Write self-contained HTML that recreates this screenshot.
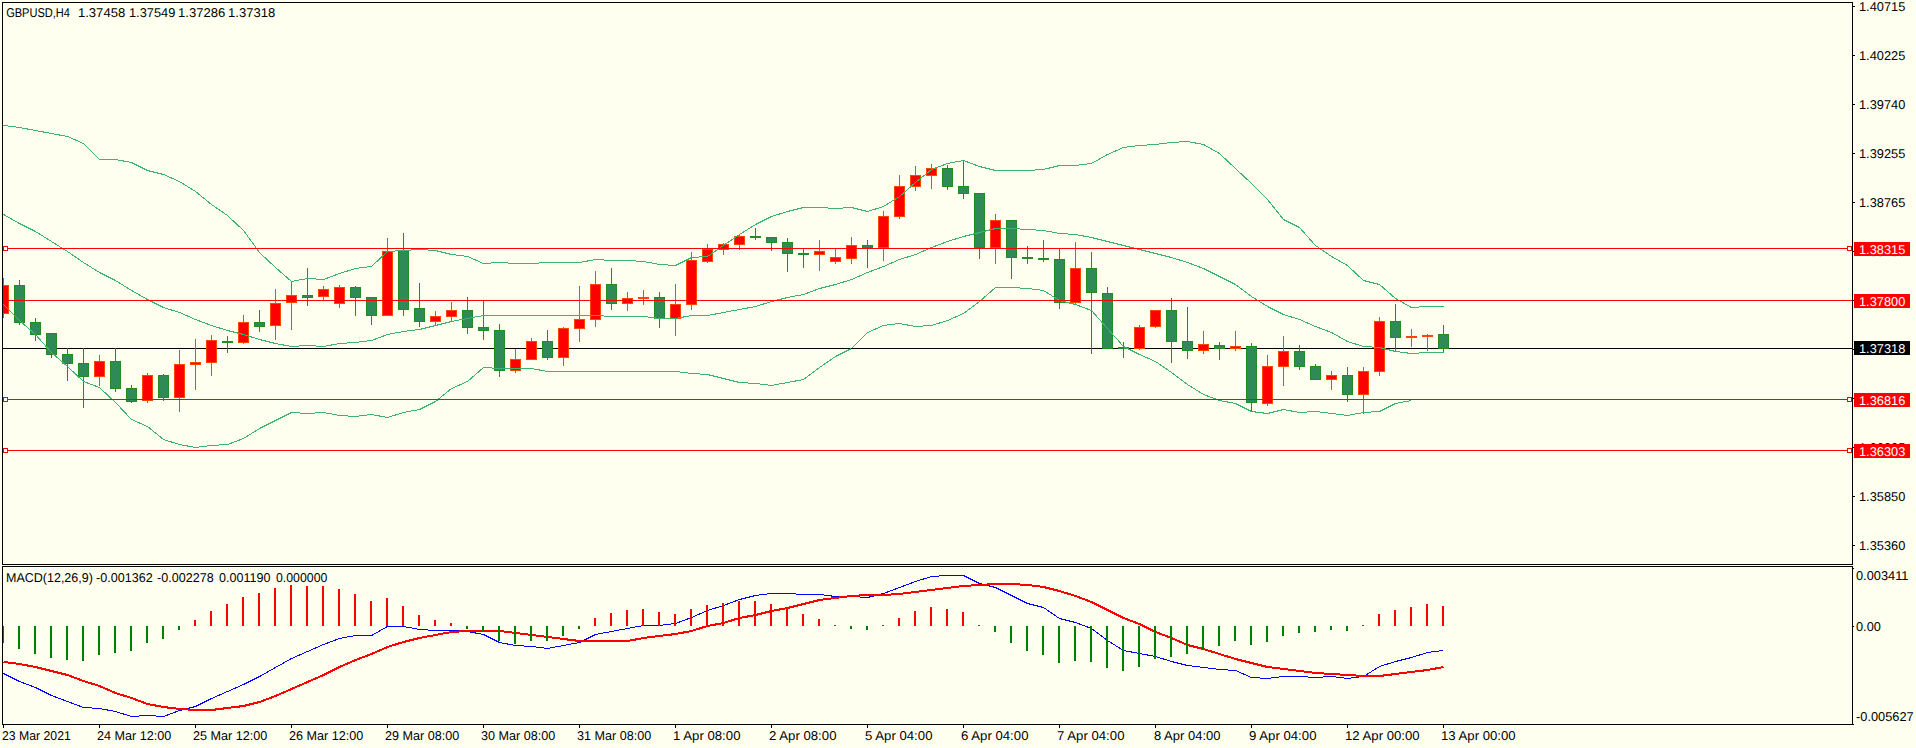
<!DOCTYPE html><html><head><meta charset="utf-8"><title>GBPUSD,H4</title><style>html,body{margin:0;padding:0;background:#FFFFF0;overflow:hidden}svg{display:block}text{text-rendering:geometricPrecision}</style></head><body><svg width="1916" height="748" viewBox="0 0 1916 748" shape-rendering="crispEdges" font-family="'Liberation Sans', sans-serif" font-size="12.8px"><defs><clipPath id="cmain"><rect x="3" y="3" width="1849" height="561"/></clipPath><clipPath id="cmacd"><rect x="3" y="567" width="1849" height="157"/></clipPath></defs><rect x="0" y="0" width="1916" height="748" fill="#FFFFF0"/><g clip-path="url(#cmain)"><rect x="3" y="348" width="1849" height="1" fill="#000000"/><rect x="3" y="278" width="1" height="40" fill="#FF4500"/><rect x="-2" y="285" width="11" height="29" fill="#FF4500"/><rect x="-1" y="286" width="9" height="27" fill="#FF0000"/><rect x="19" y="280" width="1" height="45" fill="#228B22"/><rect x="14" y="285" width="11" height="38" fill="#228B22"/><rect x="15" y="286" width="9" height="36" fill="#2E8B57"/><rect x="35" y="318" width="1" height="23" fill="#228B22"/><rect x="30" y="322" width="11" height="13" fill="#228B22"/><rect x="31" y="323" width="9" height="11" fill="#2E8B57"/><rect x="51" y="333" width="1" height="25" fill="#228B22"/><rect x="46" y="333" width="11" height="22" fill="#228B22"/><rect x="47" y="334" width="9" height="20" fill="#2E8B57"/><rect x="67" y="348" width="1" height="33" fill="#228B22"/><rect x="62" y="354" width="11" height="10" fill="#228B22"/><rect x="63" y="355" width="9" height="8" fill="#2E8B57"/><rect x="83" y="348" width="1" height="60" fill="#228B22"/><rect x="78" y="363" width="11" height="14" fill="#228B22"/><rect x="79" y="364" width="9" height="12" fill="#2E8B57"/><rect x="99" y="355" width="1" height="31" fill="#FF4500"/><rect x="94" y="361" width="11" height="16" fill="#FF4500"/><rect x="95" y="362" width="9" height="14" fill="#FF0000"/><rect x="115" y="348" width="1" height="44" fill="#228B22"/><rect x="110" y="361" width="11" height="28" fill="#228B22"/><rect x="111" y="362" width="9" height="26" fill="#2E8B57"/><rect x="131" y="385" width="1" height="18" fill="#228B22"/><rect x="126" y="388" width="11" height="14" fill="#228B22"/><rect x="127" y="389" width="9" height="12" fill="#2E8B57"/><rect x="147" y="373" width="1" height="30" fill="#FF4500"/><rect x="142" y="375" width="11" height="26" fill="#FF4500"/><rect x="143" y="376" width="9" height="24" fill="#FF0000"/><rect x="163" y="374" width="1" height="27" fill="#228B22"/><rect x="158" y="375" width="11" height="23" fill="#228B22"/><rect x="159" y="376" width="9" height="21" fill="#2E8B57"/><rect x="179" y="350" width="1" height="62" fill="#FF4500"/><rect x="174" y="364" width="11" height="34" fill="#FF4500"/><rect x="175" y="365" width="9" height="32" fill="#FF0000"/><rect x="195" y="339" width="1" height="51" fill="#FF4500"/><rect x="190" y="362" width="11" height="3" fill="#FF4500"/><rect x="191" y="363" width="9" height="1" fill="#FF0000"/><rect x="211" y="335" width="1" height="41" fill="#FF4500"/><rect x="206" y="340" width="11" height="23" fill="#FF4500"/><rect x="207" y="341" width="9" height="21" fill="#FF0000"/><rect x="227" y="336" width="1" height="17" fill="#228B22"/><rect x="222" y="341" width="11" height="2" fill="#228B22"/><rect x="243" y="315" width="1" height="29" fill="#FF4500"/><rect x="238" y="322" width="11" height="21" fill="#FF4500"/><rect x="239" y="323" width="9" height="19" fill="#FF0000"/><rect x="259" y="310" width="1" height="22" fill="#228B22"/><rect x="254" y="322" width="11" height="5" fill="#228B22"/><rect x="255" y="323" width="9" height="3" fill="#2E8B57"/><rect x="275" y="289" width="1" height="51" fill="#FF4500"/><rect x="270" y="303" width="11" height="23" fill="#FF4500"/><rect x="271" y="304" width="9" height="21" fill="#FF0000"/><rect x="291" y="282" width="1" height="48" fill="#FF4500"/><rect x="286" y="295" width="11" height="8" fill="#FF4500"/><rect x="287" y="296" width="9" height="6" fill="#FF0000"/><rect x="307" y="268" width="1" height="38" fill="#228B22"/><rect x="302" y="295" width="11" height="3" fill="#228B22"/><rect x="303" y="296" width="9" height="1" fill="#2E8B57"/><rect x="323" y="286" width="1" height="15" fill="#FF4500"/><rect x="318" y="289" width="11" height="8" fill="#FF4500"/><rect x="319" y="290" width="9" height="6" fill="#FF0000"/><rect x="339" y="285" width="1" height="23" fill="#FF4500"/><rect x="334" y="287" width="11" height="17" fill="#FF4500"/><rect x="335" y="288" width="9" height="15" fill="#FF0000"/><rect x="355" y="286" width="1" height="30" fill="#228B22"/><rect x="350" y="287" width="11" height="11" fill="#228B22"/><rect x="351" y="288" width="9" height="9" fill="#2E8B57"/><rect x="371" y="297" width="1" height="28" fill="#228B22"/><rect x="366" y="297" width="11" height="19" fill="#228B22"/><rect x="367" y="298" width="9" height="17" fill="#2E8B57"/><rect x="387" y="238" width="1" height="78" fill="#FF4500"/><rect x="382" y="251" width="11" height="65" fill="#FF4500"/><rect x="383" y="252" width="9" height="63" fill="#FF0000"/><rect x="403" y="233" width="1" height="83" fill="#228B22"/><rect x="398" y="250" width="11" height="60" fill="#228B22"/><rect x="399" y="251" width="9" height="58" fill="#2E8B57"/><rect x="419" y="283" width="1" height="44" fill="#228B22"/><rect x="414" y="308" width="11" height="14" fill="#228B22"/><rect x="415" y="309" width="9" height="12" fill="#2E8B57"/><rect x="435" y="311" width="1" height="14" fill="#FF4500"/><rect x="430" y="316" width="11" height="6" fill="#FF4500"/><rect x="431" y="317" width="9" height="4" fill="#FF0000"/><rect x="451" y="302" width="1" height="19" fill="#FF4500"/><rect x="446" y="310" width="11" height="7" fill="#FF4500"/><rect x="447" y="311" width="9" height="5" fill="#FF0000"/><rect x="467" y="297" width="1" height="37" fill="#228B22"/><rect x="462" y="310" width="11" height="18" fill="#228B22"/><rect x="463" y="311" width="9" height="16" fill="#2E8B57"/><rect x="483" y="301" width="1" height="39" fill="#228B22"/><rect x="478" y="327" width="11" height="4" fill="#228B22"/><rect x="479" y="328" width="9" height="2" fill="#2E8B57"/><rect x="499" y="324" width="1" height="53" fill="#228B22"/><rect x="494" y="330" width="11" height="41" fill="#228B22"/><rect x="495" y="331" width="9" height="39" fill="#2E8B57"/><rect x="515" y="349" width="1" height="24" fill="#FF4500"/><rect x="510" y="359" width="11" height="12" fill="#FF4500"/><rect x="511" y="360" width="9" height="10" fill="#FF0000"/><rect x="531" y="338" width="1" height="22" fill="#FF4500"/><rect x="526" y="341" width="11" height="19" fill="#FF4500"/><rect x="527" y="342" width="9" height="17" fill="#FF0000"/><rect x="547" y="330" width="1" height="30" fill="#228B22"/><rect x="542" y="341" width="11" height="17" fill="#228B22"/><rect x="543" y="342" width="9" height="15" fill="#2E8B57"/><rect x="563" y="327" width="1" height="39" fill="#FF4500"/><rect x="558" y="328" width="11" height="30" fill="#FF4500"/><rect x="559" y="329" width="9" height="28" fill="#FF0000"/><rect x="579" y="286" width="1" height="56" fill="#FF4500"/><rect x="574" y="319" width="11" height="10" fill="#FF4500"/><rect x="575" y="320" width="9" height="8" fill="#FF0000"/><rect x="595" y="271" width="1" height="56" fill="#FF4500"/><rect x="590" y="284" width="11" height="36" fill="#FF4500"/><rect x="591" y="285" width="9" height="34" fill="#FF0000"/><rect x="611" y="268" width="1" height="42" fill="#228B22"/><rect x="606" y="284" width="11" height="20" fill="#228B22"/><rect x="607" y="285" width="9" height="18" fill="#2E8B57"/><rect x="627" y="292" width="1" height="19" fill="#FF4500"/><rect x="622" y="298" width="11" height="6" fill="#FF4500"/><rect x="623" y="299" width="9" height="4" fill="#FF0000"/><rect x="643" y="290" width="1" height="15" fill="#FF4500"/><rect x="638" y="297" width="11" height="2" fill="#FF4500"/><rect x="659" y="292" width="1" height="36" fill="#228B22"/><rect x="654" y="297" width="11" height="22" fill="#228B22"/><rect x="655" y="298" width="9" height="20" fill="#2E8B57"/><rect x="675" y="284" width="1" height="52" fill="#FF4500"/><rect x="670" y="304" width="11" height="15" fill="#FF4500"/><rect x="671" y="305" width="9" height="13" fill="#FF0000"/><rect x="691" y="252" width="1" height="58" fill="#FF4500"/><rect x="686" y="260" width="11" height="45" fill="#FF4500"/><rect x="687" y="261" width="9" height="43" fill="#FF0000"/><rect x="707" y="244" width="1" height="19" fill="#FF4500"/><rect x="702" y="249" width="11" height="13" fill="#FF4500"/><rect x="703" y="250" width="9" height="11" fill="#FF0000"/><rect x="723" y="243" width="1" height="12" fill="#FF4500"/><rect x="718" y="244" width="11" height="6" fill="#FF4500"/><rect x="719" y="245" width="9" height="4" fill="#FF0000"/><rect x="739" y="235" width="1" height="15" fill="#FF4500"/><rect x="734" y="236" width="11" height="9" fill="#FF4500"/><rect x="735" y="237" width="9" height="7" fill="#FF0000"/><rect x="755" y="228" width="1" height="12" fill="#228B22"/><rect x="750" y="236" width="11" height="2" fill="#228B22"/><rect x="771" y="237" width="1" height="14" fill="#228B22"/><rect x="766" y="237" width="11" height="6" fill="#228B22"/><rect x="767" y="238" width="9" height="4" fill="#2E8B57"/><rect x="787" y="238" width="1" height="34" fill="#228B22"/><rect x="782" y="242" width="11" height="12" fill="#228B22"/><rect x="783" y="243" width="9" height="10" fill="#2E8B57"/><rect x="803" y="249" width="1" height="19" fill="#228B22"/><rect x="798" y="253" width="11" height="2" fill="#228B22"/><rect x="819" y="240" width="1" height="31" fill="#FF4500"/><rect x="814" y="251" width="11" height="4" fill="#FF4500"/><rect x="815" y="252" width="9" height="2" fill="#FF0000"/><rect x="835" y="248" width="1" height="16" fill="#FF4500"/><rect x="830" y="257" width="11" height="5" fill="#FF4500"/><rect x="831" y="258" width="9" height="3" fill="#FF0000"/><rect x="851" y="237" width="1" height="27" fill="#FF4500"/><rect x="846" y="245" width="11" height="14" fill="#FF4500"/><rect x="847" y="246" width="9" height="12" fill="#FF0000"/><rect x="867" y="240" width="1" height="28" fill="#228B22"/><rect x="862" y="245" width="11" height="3" fill="#228B22"/><rect x="863" y="246" width="9" height="1" fill="#2E8B57"/><rect x="883" y="211" width="1" height="50" fill="#FF4500"/><rect x="878" y="216" width="11" height="32" fill="#FF4500"/><rect x="879" y="217" width="9" height="30" fill="#FF0000"/><rect x="899" y="175" width="1" height="44" fill="#FF4500"/><rect x="894" y="186" width="11" height="31" fill="#FF4500"/><rect x="895" y="187" width="9" height="29" fill="#FF0000"/><rect x="915" y="166" width="1" height="25" fill="#FF4500"/><rect x="910" y="175" width="11" height="12" fill="#FF4500"/><rect x="911" y="176" width="9" height="10" fill="#FF0000"/><rect x="931" y="164" width="1" height="25" fill="#FF4500"/><rect x="926" y="168" width="11" height="8" fill="#FF4500"/><rect x="927" y="169" width="9" height="6" fill="#FF0000"/><rect x="947" y="165" width="1" height="25" fill="#228B22"/><rect x="942" y="168" width="11" height="19" fill="#228B22"/><rect x="943" y="169" width="9" height="17" fill="#2E8B57"/><rect x="963" y="160" width="1" height="39" fill="#228B22"/><rect x="958" y="186" width="11" height="8" fill="#228B22"/><rect x="959" y="187" width="9" height="6" fill="#2E8B57"/><rect x="979" y="193" width="1" height="66" fill="#228B22"/><rect x="974" y="193" width="11" height="55" fill="#228B22"/><rect x="975" y="194" width="9" height="53" fill="#2E8B57"/><rect x="995" y="214" width="1" height="50" fill="#FF4500"/><rect x="990" y="220" width="11" height="28" fill="#FF4500"/><rect x="991" y="221" width="9" height="26" fill="#FF0000"/><rect x="1011" y="220" width="1" height="59" fill="#228B22"/><rect x="1006" y="220" width="11" height="38" fill="#228B22"/><rect x="1007" y="221" width="9" height="36" fill="#2E8B57"/><rect x="1027" y="246" width="1" height="18" fill="#228B22"/><rect x="1022" y="257" width="11" height="2" fill="#228B22"/><rect x="1043" y="240" width="1" height="22" fill="#228B22"/><rect x="1038" y="258" width="11" height="2" fill="#228B22"/><rect x="1059" y="249" width="1" height="60" fill="#228B22"/><rect x="1054" y="259" width="11" height="44" fill="#228B22"/><rect x="1055" y="260" width="9" height="42" fill="#2E8B57"/><rect x="1075" y="242" width="1" height="62" fill="#FF4500"/><rect x="1070" y="268" width="11" height="35" fill="#FF4500"/><rect x="1071" y="269" width="9" height="33" fill="#FF0000"/><rect x="1091" y="252" width="1" height="102" fill="#228B22"/><rect x="1086" y="268" width="11" height="25" fill="#228B22"/><rect x="1087" y="269" width="9" height="23" fill="#2E8B57"/><rect x="1107" y="287" width="1" height="62" fill="#228B22"/><rect x="1102" y="293" width="11" height="56" fill="#228B22"/><rect x="1103" y="294" width="9" height="54" fill="#2E8B57"/><rect x="1123" y="342" width="1" height="16" fill="#228B22"/><rect x="1118" y="347" width="11" height="2" fill="#228B22"/><rect x="1139" y="325" width="1" height="25" fill="#FF4500"/><rect x="1134" y="327" width="11" height="22" fill="#FF4500"/><rect x="1135" y="328" width="9" height="20" fill="#FF0000"/><rect x="1155" y="310" width="1" height="18" fill="#FF4500"/><rect x="1150" y="310" width="11" height="17" fill="#FF4500"/><rect x="1151" y="311" width="9" height="15" fill="#FF0000"/><rect x="1171" y="298" width="1" height="65" fill="#228B22"/><rect x="1166" y="310" width="11" height="32" fill="#228B22"/><rect x="1167" y="311" width="9" height="30" fill="#2E8B57"/><rect x="1187" y="307" width="1" height="52" fill="#228B22"/><rect x="1182" y="341" width="11" height="10" fill="#228B22"/><rect x="1183" y="342" width="9" height="8" fill="#2E8B57"/><rect x="1203" y="331" width="1" height="23" fill="#FF4500"/><rect x="1198" y="344" width="11" height="7" fill="#FF4500"/><rect x="1199" y="345" width="9" height="5" fill="#FF0000"/><rect x="1219" y="342" width="1" height="18" fill="#228B22"/><rect x="1214" y="345" width="11" height="4" fill="#228B22"/><rect x="1215" y="346" width="9" height="2" fill="#2E8B57"/><rect x="1235" y="331" width="1" height="20" fill="#FF4500"/><rect x="1230" y="346" width="11" height="3" fill="#FF4500"/><rect x="1231" y="347" width="9" height="1" fill="#FF0000"/><rect x="1251" y="343" width="1" height="69" fill="#228B22"/><rect x="1246" y="346" width="11" height="57" fill="#228B22"/><rect x="1247" y="347" width="9" height="55" fill="#2E8B57"/><rect x="1267" y="355" width="1" height="51" fill="#FF4500"/><rect x="1262" y="366" width="11" height="38" fill="#FF4500"/><rect x="1263" y="367" width="9" height="36" fill="#FF0000"/><rect x="1283" y="336" width="1" height="50" fill="#FF4500"/><rect x="1278" y="351" width="11" height="16" fill="#FF4500"/><rect x="1279" y="352" width="9" height="14" fill="#FF0000"/><rect x="1299" y="345" width="1" height="25" fill="#228B22"/><rect x="1294" y="351" width="11" height="16" fill="#228B22"/><rect x="1295" y="352" width="9" height="14" fill="#2E8B57"/><rect x="1315" y="364" width="1" height="16" fill="#228B22"/><rect x="1310" y="366" width="11" height="14" fill="#228B22"/><rect x="1311" y="367" width="9" height="12" fill="#2E8B57"/><rect x="1331" y="371" width="1" height="19" fill="#FF4500"/><rect x="1326" y="375" width="11" height="5" fill="#FF4500"/><rect x="1327" y="376" width="9" height="3" fill="#FF0000"/><rect x="1347" y="367" width="1" height="35" fill="#228B22"/><rect x="1342" y="375" width="11" height="20" fill="#228B22"/><rect x="1343" y="376" width="9" height="18" fill="#2E8B57"/><rect x="1363" y="367" width="1" height="47" fill="#FF4500"/><rect x="1358" y="371" width="11" height="24" fill="#FF4500"/><rect x="1359" y="372" width="9" height="22" fill="#FF0000"/><rect x="1379" y="317" width="1" height="59" fill="#FF4500"/><rect x="1374" y="321" width="11" height="51" fill="#FF4500"/><rect x="1375" y="322" width="9" height="49" fill="#FF0000"/><rect x="1395" y="304" width="1" height="47" fill="#228B22"/><rect x="1390" y="321" width="11" height="17" fill="#228B22"/><rect x="1391" y="322" width="9" height="15" fill="#2E8B57"/><rect x="1411" y="329" width="1" height="18" fill="#FF4500"/><rect x="1406" y="336" width="11" height="2" fill="#FF4500"/><rect x="1427" y="334" width="1" height="17" fill="#FF4500"/><rect x="1422" y="335" width="11" height="2" fill="#FF4500"/><rect x="1443" y="325" width="1" height="27" fill="#228B22"/><rect x="1438" y="334" width="11" height="15" fill="#228B22"/><rect x="1439" y="335" width="9" height="13" fill="#2E8B57"/><polyline points="3.5,125.5 19.5,127.5 35.5,130.5 51.5,133.5 67.5,136.5 83.5,143.5 99.5,159.5 115.5,159.5 131.5,162.5 147.5,170.5 163.5,174.5 179.5,181.5 195.5,191.5 211.5,204.5 227.5,215.5 243.5,230.5 259.5,252.5 275.5,267.5 291.5,281.5 307.5,278.5 323.5,279.5 339.5,273.5 355.5,268.5 371.5,266.5 387.5,251.5 403.5,250.5 419.5,249.5 435.5,250.5 451.5,254.5 467.5,256.5 483.5,263.5 499.5,262.5 515.5,263.5 531.5,263.5 547.5,262.5 563.5,262.5 579.5,262.5 595.5,259.5 611.5,260.5 627.5,260.5 643.5,261.5 659.5,264.5 675.5,265.5 691.5,257.5 707.5,256.5 723.5,245.5 739.5,234.5 755.5,224.5 771.5,216.5 787.5,211.5 803.5,207.5 819.5,207.5 835.5,208.5 851.5,207.5 867.5,211.5 883.5,206.5 899.5,196.5 915.5,182.5 931.5,169.5 947.5,163.5 963.5,160.5 979.5,166.5 995.5,170.5 1011.5,170.5 1027.5,170.5 1043.5,169.5 1059.5,165.5 1075.5,165.5 1091.5,163.5 1107.5,154.5 1123.5,147.5 1139.5,145.5 1155.5,144.5 1171.5,142.5 1187.5,141.5 1203.5,144.5 1219.5,153.5 1235.5,168.5 1251.5,183.5 1267.5,199.5 1283.5,219.5 1299.5,227.5 1315.5,245.5 1331.5,256.5 1347.5,265.5 1363.5,280.5 1379.5,284.5 1395.5,298.5 1411.5,307.5 1427.5,306.5 1443.5,306.5" fill="none" stroke="#3CB371" stroke-width="1"/><polyline points="3.5,214.5 19.5,223.5 35.5,231.5 51.5,241.5 67.5,251.5 83.5,262.5 99.5,272.5 115.5,280.5 131.5,290.5 147.5,299.5 163.5,307.5 179.5,312.5 195.5,319.5 211.5,325.5 227.5,330.5 243.5,334.5 259.5,339.5 275.5,343.5 291.5,346.5 307.5,345.5 323.5,346.5 339.5,343.5 355.5,342.5 371.5,340.5 387.5,334.5 403.5,331.5 419.5,329.5 435.5,325.5 451.5,321.5 467.5,318.5 483.5,315.5 499.5,315.5 515.5,315.5 531.5,315.5 547.5,315.5 563.5,315.5 579.5,315.5 595.5,315.5 611.5,316.5 627.5,316.5 643.5,316.5 659.5,318.5 675.5,318.5 691.5,315.5 707.5,315.5 723.5,312.5 739.5,309.5 755.5,306.5 771.5,301.5 787.5,297.5 803.5,294.5 819.5,288.5 835.5,284.5 851.5,279.5 867.5,272.5 883.5,266.5 899.5,259.5 915.5,254.5 931.5,247.5 947.5,241.5 963.5,236.5 979.5,232.5 995.5,228.5 1011.5,228.5 1027.5,229.5 1043.5,230.5 1059.5,233.5 1075.5,234.5 1091.5,237.5 1107.5,241.5 1123.5,245.5 1139.5,249.5 1155.5,253.5 1171.5,257.5 1187.5,262.5 1203.5,268.5 1219.5,276.5 1235.5,284.5 1251.5,296.5 1267.5,306.5 1283.5,314.5 1299.5,319.5 1315.5,326.5 1331.5,332.5 1347.5,341.5 1363.5,346.5 1379.5,347.5 1395.5,351.5 1411.5,353.5 1427.5,352.5 1443.5,352.5" fill="none" stroke="#3CB371" stroke-width="1"/><polyline points="3.5,304.5 19.5,320.5 35.5,334.5 51.5,352.5 67.5,366.5 83.5,381.5 99.5,387.5 115.5,402.5 131.5,419.5 147.5,426.5 163.5,439.5 179.5,444.5 195.5,447.5 211.5,445.5 227.5,444.5 243.5,438.5 259.5,428.5 275.5,420.5 291.5,412.5 307.5,413.5 323.5,412.5 339.5,415.5 355.5,416.5 371.5,414.5 387.5,417.5 403.5,412.5 419.5,409.5 435.5,401.5 451.5,388.5 467.5,381.5 483.5,367.5 499.5,368.5 515.5,368.5 531.5,368.5 547.5,371.5 563.5,371.5 579.5,371.5 595.5,371.5 611.5,371.5 627.5,371.5 643.5,371.5 659.5,371.5 675.5,371.5 691.5,373.5 707.5,374.5 723.5,378.5 739.5,382.5 755.5,383.5 771.5,385.5 787.5,382.5 803.5,379.5 819.5,367.5 835.5,356.5 851.5,348.5 867.5,332.5 883.5,325.5 899.5,323.5 915.5,326.5 931.5,325.5 947.5,320.5 963.5,313.5 979.5,301.5 995.5,287.5 1011.5,287.5 1027.5,288.5 1043.5,290.5 1059.5,300.5 1075.5,304.5 1091.5,310.5 1107.5,328.5 1123.5,346.5 1139.5,354.5 1155.5,361.5 1171.5,372.5 1187.5,384.5 1203.5,394.5 1219.5,400.5 1235.5,403.5 1251.5,411.5 1267.5,413.5 1283.5,409.5 1299.5,412.5 1315.5,411.5 1331.5,413.5 1347.5,415.5 1363.5,412.5 1379.5,411.5 1395.5,403.5 1411.5,400.5" fill="none" stroke="#3CB371" stroke-width="1"/><rect x="3" y="248" width="1849" height="1" fill="#FF0000"/><rect x="3" y="300" width="1849" height="1" fill="#FF0000"/><rect x="3" y="399" width="1849" height="1" fill="#FF0000"/><rect x="3" y="450" width="1849" height="1" fill="#FF0000"/><rect x="3" y="246" width="5" height="5" fill="#FF0000"/><rect x="4" y="247" width="3" height="3" fill="#FFFFFF"/><rect x="1847" y="246" width="5" height="5" fill="#FF0000"/><rect x="1848" y="247" width="3" height="3" fill="#FFFFFF"/><rect x="3" y="397" width="5" height="5" fill="#FF0000"/><rect x="4" y="398" width="3" height="3" fill="#FFFFFF"/><rect x="1847" y="397" width="5" height="5" fill="#FF0000"/><rect x="1848" y="398" width="3" height="3" fill="#FFFFFF"/><rect x="3" y="448" width="5" height="5" fill="#FF0000"/><rect x="4" y="449" width="3" height="3" fill="#FFFFFF"/><rect x="1847" y="448" width="5" height="5" fill="#FF0000"/><rect x="1848" y="449" width="3" height="3" fill="#FFFFFF"/></g><g clip-path="url(#cmacd)"><polyline points="3.5,673.5 19.5,681.5 35.5,687.5 51.5,695.5 67.5,701.5 83.5,707.5 99.5,708.5 115.5,711.5 131.5,716.5 147.5,715.5 163.5,716.5 179.5,710.5 195.5,706.5 211.5,698.5 227.5,691.5 243.5,684.5 259.5,676.5 275.5,667.5 291.5,658.5 307.5,651.5 323.5,644.5 339.5,638.5 355.5,635.5 371.5,635.5 387.5,626.5 403.5,626.5 419.5,629.5 435.5,630.5 451.5,630.5 467.5,631.5 483.5,634.5 499.5,642.5 515.5,645.5 531.5,646.5 547.5,648.5 563.5,645.5 579.5,642.5 595.5,634.5 611.5,631.5 627.5,628.5 643.5,625.5 659.5,625.5 675.5,623.5 691.5,617.5 707.5,610.5 723.5,605.5 739.5,599.5 755.5,595.5 771.5,593.5 787.5,593.5 803.5,594.5 819.5,594.5 835.5,596.5 851.5,596.5 867.5,597.5 883.5,593.5 899.5,587.5 915.5,581.5 931.5,576.5 947.5,575.5 963.5,575.5 979.5,583.5 995.5,587.5 1011.5,595.5 1027.5,603.5 1043.5,607.5 1059.5,618.5 1075.5,622.5 1091.5,628.5 1107.5,640.5 1123.5,650.5 1139.5,653.5 1155.5,656.5 1171.5,661.5 1187.5,665.5 1203.5,667.5 1219.5,669.5 1235.5,670.5 1251.5,677.5 1267.5,678.5 1283.5,676.5 1299.5,676.5 1315.5,677.5 1331.5,676.5 1347.5,678.5 1363.5,676.5 1379.5,666.5 1395.5,661.5 1411.5,657.5 1427.5,652.5 1443.5,650.5" fill="none" stroke="#0000FF" stroke-width="1"/><polyline points="3.5,662 19.5,664 35.5,667 51.5,671 67.5,675 83.5,681 99.5,686 115.5,693 131.5,698 147.5,704 163.5,707 179.5,709 195.5,710 211.5,710 227.5,708 243.5,706 259.5,702 275.5,696 291.5,689 307.5,682 323.5,675 339.5,667 355.5,660 371.5,654 387.5,647 403.5,642 419.5,638 435.5,635 451.5,632 467.5,631 483.5,631 499.5,631 515.5,633 531.5,635 547.5,637 563.5,639 579.5,641 595.5,641 611.5,641 627.5,641 643.5,638 659.5,636 675.5,634 691.5,631 707.5,626 723.5,623 739.5,618 755.5,615 771.5,611 787.5,608 803.5,604 819.5,600 835.5,598 851.5,596 867.5,595 883.5,595 899.5,594 915.5,592 931.5,590 947.5,588 963.5,586 979.5,585 995.5,584 1011.5,584 1027.5,585 1043.5,587 1059.5,591 1075.5,596 1091.5,602 1107.5,610 1123.5,618 1139.5,624 1155.5,632 1171.5,638 1187.5,645 1203.5,649 1219.5,654 1235.5,659 1251.5,663 1267.5,667 1283.5,669 1299.5,671 1315.5,673 1331.5,674 1347.5,675 1363.5,676 1379.5,676 1395.5,674 1411.5,672 1427.5,670 1443.5,667" fill="none" stroke="#FF0000" stroke-width="2"/><rect x="2" y="626" width="2" height="17" fill="#008000"/><rect x="18" y="626" width="2" height="23" fill="#008000"/><rect x="34" y="626" width="2" height="28" fill="#008000"/><rect x="50" y="626" width="2" height="32" fill="#008000"/><rect x="66" y="626" width="2" height="34" fill="#008000"/><rect x="82" y="626" width="2" height="35" fill="#008000"/><rect x="98" y="626" width="2" height="29" fill="#008000"/><rect x="114" y="626" width="2" height="27" fill="#008000"/><rect x="130" y="626" width="2" height="25" fill="#008000"/><rect x="146" y="626" width="2" height="17" fill="#008000"/><rect x="162" y="626" width="2" height="13" fill="#008000"/><rect x="178" y="626" width="2" height="4" fill="#008000"/><rect x="194" y="620" width="2" height="6" fill="#FF0000"/><rect x="210" y="611" width="2" height="15" fill="#FF0000"/><rect x="226" y="604" width="2" height="22" fill="#FF0000"/><rect x="242" y="597" width="2" height="29" fill="#FF0000"/><rect x="258" y="593" width="2" height="33" fill="#FF0000"/><rect x="274" y="588" width="2" height="38" fill="#FF0000"/><rect x="290" y="585" width="2" height="41" fill="#FF0000"/><rect x="306" y="586" width="2" height="40" fill="#FF0000"/><rect x="322" y="586" width="2" height="40" fill="#FF0000"/><rect x="338" y="589" width="2" height="37" fill="#FF0000"/><rect x="354" y="594" width="2" height="32" fill="#FF0000"/><rect x="370" y="601" width="2" height="25" fill="#FF0000"/><rect x="386" y="598" width="2" height="28" fill="#FF0000"/><rect x="402" y="606" width="2" height="20" fill="#FF0000"/><rect x="418" y="615" width="2" height="11" fill="#FF0000"/><rect x="434" y="620" width="2" height="6" fill="#FF0000"/><rect x="450" y="623" width="2" height="3" fill="#FF0000"/><rect x="466" y="626" width="2" height="3" fill="#008000"/><rect x="482" y="626" width="2" height="6" fill="#008000"/><rect x="498" y="626" width="2" height="15" fill="#008000"/><rect x="514" y="626" width="2" height="18" fill="#008000"/><rect x="530" y="626" width="2" height="15" fill="#008000"/><rect x="546" y="626" width="2" height="15" fill="#008000"/><rect x="562" y="626" width="2" height="10" fill="#008000"/><rect x="578" y="626" width="2" height="3" fill="#008000"/><rect x="594" y="618" width="2" height="8" fill="#FF0000"/><rect x="610" y="613" width="2" height="13" fill="#FF0000"/><rect x="626" y="610" width="2" height="16" fill="#FF0000"/><rect x="642" y="609" width="2" height="17" fill="#FF0000"/><rect x="658" y="612" width="2" height="14" fill="#FF0000"/><rect x="674" y="614" width="2" height="12" fill="#FF0000"/><rect x="690" y="609" width="2" height="17" fill="#FF0000"/><rect x="706" y="605" width="2" height="21" fill="#FF0000"/><rect x="722" y="603" width="2" height="23" fill="#FF0000"/><rect x="738" y="601" width="2" height="25" fill="#FF0000"/><rect x="754" y="601" width="2" height="25" fill="#FF0000"/><rect x="770" y="604" width="2" height="22" fill="#FF0000"/><rect x="786" y="607" width="2" height="19" fill="#FF0000"/><rect x="802" y="614" width="2" height="12" fill="#FF0000"/><rect x="818" y="619" width="2" height="7" fill="#FF0000"/><rect x="834" y="625" width="2" height="1" fill="#FF0000"/><rect x="850" y="626" width="2" height="3" fill="#008000"/><rect x="866" y="626" width="2" height="4" fill="#008000"/><rect x="882" y="625" width="2" height="1" fill="#FF0000"/><rect x="898" y="618" width="2" height="8" fill="#FF0000"/><rect x="914" y="611" width="2" height="15" fill="#FF0000"/><rect x="930" y="607" width="2" height="19" fill="#FF0000"/><rect x="946" y="609" width="2" height="17" fill="#FF0000"/><rect x="962" y="612" width="2" height="14" fill="#FF0000"/><rect x="978" y="625" width="2" height="1" fill="#FF0000"/><rect x="994" y="626" width="2" height="6" fill="#008000"/><rect x="1010" y="626" width="2" height="17" fill="#008000"/><rect x="1026" y="626" width="2" height="25" fill="#008000"/><rect x="1042" y="626" width="2" height="29" fill="#008000"/><rect x="1058" y="626" width="2" height="37" fill="#008000"/><rect x="1074" y="626" width="2" height="35" fill="#008000"/><rect x="1090" y="626" width="2" height="36" fill="#008000"/><rect x="1106" y="626" width="2" height="42" fill="#008000"/><rect x="1122" y="626" width="2" height="45" fill="#008000"/><rect x="1138" y="626" width="2" height="41" fill="#008000"/><rect x="1154" y="626" width="2" height="33" fill="#008000"/><rect x="1170" y="626" width="2" height="31" fill="#008000"/><rect x="1186" y="626" width="2" height="28" fill="#008000"/><rect x="1202" y="626" width="2" height="24" fill="#008000"/><rect x="1218" y="626" width="2" height="20" fill="#008000"/><rect x="1234" y="626" width="2" height="15" fill="#008000"/><rect x="1250" y="626" width="2" height="19" fill="#008000"/><rect x="1266" y="626" width="2" height="16" fill="#008000"/><rect x="1282" y="626" width="2" height="10" fill="#008000"/><rect x="1298" y="626" width="2" height="7" fill="#008000"/><rect x="1314" y="626" width="2" height="6" fill="#008000"/><rect x="1330" y="626" width="2" height="4" fill="#008000"/><rect x="1346" y="626" width="2" height="5" fill="#008000"/><rect x="1362" y="625" width="2" height="1" fill="#FF0000"/><rect x="1378" y="614" width="2" height="12" fill="#FF0000"/><rect x="1394" y="610" width="2" height="16" fill="#FF0000"/><rect x="1410" y="607" width="2" height="19" fill="#FF0000"/><rect x="1426" y="604" width="2" height="22" fill="#FF0000"/><rect x="1442" y="606" width="2" height="20" fill="#FF0000"/></g><rect x="2" y="2" width="1851" height="1" fill="#000"/><rect x="2" y="564" width="1851" height="1" fill="#000"/><rect x="2" y="2" width="1" height="563" fill="#000"/><rect x="1852" y="2" width="1" height="563" fill="#000"/><rect x="2" y="566" width="1851" height="1" fill="#000"/><rect x="2" y="724" width="1851" height="1" fill="#000"/><rect x="2" y="566" width="1" height="159" fill="#000"/><rect x="1852" y="566" width="1" height="159" fill="#000"/><rect x="1853" y="6" width="2" height="1" fill="#000"/><rect x="1853" y="55" width="2" height="1" fill="#000"/><rect x="1853" y="104" width="2" height="1" fill="#000"/><rect x="1853" y="153" width="2" height="1" fill="#000"/><rect x="1853" y="202" width="2" height="1" fill="#000"/><rect x="1853" y="251" width="2" height="1" fill="#000"/><rect x="1853" y="300" width="2" height="1" fill="#000"/><rect x="1853" y="349" width="2" height="1" fill="#000"/><rect x="1853" y="398" width="2" height="1" fill="#000"/><rect x="1853" y="447" width="2" height="1" fill="#000"/><rect x="1853" y="496" width="2" height="1" fill="#000"/><rect x="1853" y="545" width="2" height="1" fill="#000"/><rect x="1853" y="568" width="1" height="1" fill="#000"/><rect x="1853" y="626" width="1" height="1" fill="#000"/><rect x="1853" y="724" width="1" height="1" fill="#000"/><rect x="3" y="725" width="1" height="3" fill="#000"/><rect x="99" y="725" width="1" height="3" fill="#000"/><rect x="195" y="725" width="1" height="3" fill="#000"/><rect x="291" y="725" width="1" height="3" fill="#000"/><rect x="387" y="725" width="1" height="3" fill="#000"/><rect x="483" y="725" width="1" height="3" fill="#000"/><rect x="579" y="725" width="1" height="3" fill="#000"/><rect x="675" y="725" width="1" height="3" fill="#000"/><rect x="771" y="725" width="1" height="3" fill="#000"/><rect x="867" y="725" width="1" height="3" fill="#000"/><rect x="963" y="725" width="1" height="3" fill="#000"/><rect x="1059" y="725" width="1" height="3" fill="#000"/><rect x="1155" y="725" width="1" height="3" fill="#000"/><rect x="1251" y="725" width="1" height="3" fill="#000"/><rect x="1347" y="725" width="1" height="3" fill="#000"/><rect x="1443" y="725" width="1" height="3" fill="#000"/><g><text x="6.14" y="17" fill="#000" textLength="63.84" lengthAdjust="spacingAndGlyphs">GBPUSD,H4</text><text x="77.93" y="17" fill="#000" textLength="47.34" lengthAdjust="spacingAndGlyphs">1.37458</text><text x="129.0" y="17" fill="#000" textLength="46.27" lengthAdjust="spacingAndGlyphs">1.37549</text><text x="177.98" y="17" fill="#000" textLength="47.29" lengthAdjust="spacingAndGlyphs">1.37286</text><text x="227.98" y="17" fill="#000" textLength="47.29" lengthAdjust="spacingAndGlyphs">1.37318</text><text x="6.02" y="582" fill="#000" textLength="86.86" lengthAdjust="spacingAndGlyphs">MACD(12,26,9)</text><text x="96.0" y="582" fill="#000" textLength="56.63" lengthAdjust="spacingAndGlyphs">-0.001362</text><text x="157.0" y="582" fill="#000" textLength="56.63" lengthAdjust="spacingAndGlyphs">-0.002278</text><text x="219.0" y="582" fill="#000" textLength="51.43" lengthAdjust="spacingAndGlyphs">0.001190</text><text x="276.0" y="582" fill="#000" textLength="51.36" lengthAdjust="spacingAndGlyphs">0.000000</text><text x="1859" y="11" fill="#000">1.40715</text><text x="1859" y="60" fill="#000">1.40225</text><text x="1859" y="109" fill="#000">1.39740</text><text x="1859" y="158" fill="#000">1.39255</text><text x="1859" y="207" fill="#000">1.38765</text><text x="1859" y="256" fill="#000">1.38280</text><text x="1859" y="305" fill="#000">1.37790</text><text x="1859" y="354" fill="#000">1.37305</text><text x="1859" y="403" fill="#000">1.36815</text><text x="1859" y="452" fill="#000">1.36335</text><text x="1859" y="501" fill="#000">1.35850</text><text x="1859" y="550" fill="#000">1.35360</text><text x="1856" y="580" fill="#000">0.003411</text><text x="1856" y="631" fill="#000">0.00</text><text x="1856" y="721" fill="#000">-0.005627</text><text x="2.03" y="740" fill="#000" textLength="68.8" lengthAdjust="spacingAndGlyphs">23 Mar 2021</text><text x="97.01" y="740" fill="#000" textLength="74.4" lengthAdjust="spacingAndGlyphs">24 Mar 12:00</text><text x="193.01" y="740" fill="#000" textLength="74.4" lengthAdjust="spacingAndGlyphs">25 Mar 12:00</text><text x="289.01" y="740" fill="#000" textLength="74.4" lengthAdjust="spacingAndGlyphs">26 Mar 12:00</text><text x="385.01" y="740" fill="#000" textLength="74.4" lengthAdjust="spacingAndGlyphs">29 Mar 08:00</text><text x="481.01" y="740" fill="#000" textLength="74.4" lengthAdjust="spacingAndGlyphs">30 Mar 08:00</text><text x="577.01" y="740" fill="#000" textLength="74.4" lengthAdjust="spacingAndGlyphs">31 Mar 08:00</text><text x="672.97" y="740" fill="#000" textLength="67.51" lengthAdjust="spacingAndGlyphs">1 Apr 08:00</text><text x="768.97" y="740" fill="#000" textLength="67.51" lengthAdjust="spacingAndGlyphs">2 Apr 08:00</text><text x="864.97" y="740" fill="#000" textLength="67.51" lengthAdjust="spacingAndGlyphs">5 Apr 04:00</text><text x="960.97" y="740" fill="#000" textLength="67.51" lengthAdjust="spacingAndGlyphs">6 Apr 04:00</text><text x="1056.97" y="740" fill="#000" textLength="67.51" lengthAdjust="spacingAndGlyphs">7 Apr 04:00</text><text x="1154.0" y="740" fill="#000" textLength="66.48" lengthAdjust="spacingAndGlyphs">8 Apr 04:00</text><text x="1248.97" y="740" fill="#000" textLength="67.51" lengthAdjust="spacingAndGlyphs">9 Apr 04:00</text><text x="1344.97" y="740" fill="#000" textLength="74.62" lengthAdjust="spacingAndGlyphs">12 Apr 00:00</text><text x="1440.97" y="740" fill="#000" textLength="74.62" lengthAdjust="spacingAndGlyphs">13 Apr 00:00</text></g><g><rect x="1854" y="242" width="56" height="14" fill="#FF0000"/><text x="1859" y="254" fill="#FFFFFF">1.38315</text><rect x="1854" y="294" width="56" height="14" fill="#FF0000"/><text x="1859" y="306" fill="#FFFFFF">1.37800</text><rect x="1854" y="341" width="56" height="14" fill="#000000"/><text x="1859" y="353" fill="#FFFFFF">1.37318</text><rect x="1854" y="393" width="56" height="14" fill="#FF0000"/><text x="1859" y="405" fill="#FFFFFF">1.36816</text><rect x="1854" y="444" width="56" height="14" fill="#FF0000"/><text x="1859" y="456" fill="#FFFFFF">1.36303</text></g></svg></body></html>
